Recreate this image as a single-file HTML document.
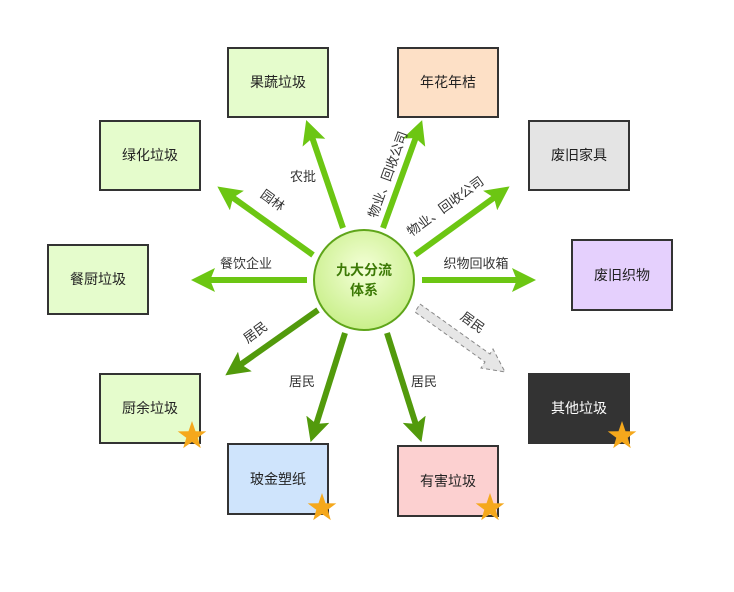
<!DOCTYPE html>
<html><head><meta charset="utf-8"><style>
html,body{margin:0;padding:0;background:#fff;}
svg{display:block;font-family:"Liberation Sans","Noto Sans CJK SC",sans-serif;}
</style></head><body>
<svg width="734" height="592" viewBox="0 0 734 592" xmlns="http://www.w3.org/2000/svg">
<defs>
<marker id="ml" markerWidth="4" markerHeight="4" refX="1" refY="2" orient="auto" markerUnits="strokeWidth"><path d="M0,0 L4,2 L0,4 L0.8,2 z" fill="#6cc613"/></marker>
<marker id="md" markerWidth="4" markerHeight="4" refX="1" refY="2" orient="auto" markerUnits="strokeWidth"><path d="M0,0 L4,2 L0,4 L0.8,2 z" fill="#529a0c"/></marker>
<radialGradient id="cg" cx="50%" cy="40%" r="60%"><stop offset="0" stop-color="#f4ffd8"/><stop offset="1" stop-color="#c9ef8a"/></radialGradient>
</defs>
<g stroke-width="6" fill="none">
<line x1="343" y1="228" x2="312" y2="137" stroke="#6cc613" marker-end="url(#ml)"/>
<line x1="383" y1="228" x2="416" y2="137" stroke="#6cc613" marker-end="url(#ml)"/>
<line x1="313" y1="255" x2="232" y2="197" stroke="#6cc613" marker-end="url(#ml)"/>
<line x1="415" y1="255" x2="495" y2="197" stroke="#6cc613" marker-end="url(#ml)"/>
<line x1="307" y1="280" x2="209" y2="280" stroke="#6cc613" marker-end="url(#ml)"/>
<line x1="422" y1="280" x2="518" y2="280" stroke="#6cc613" marker-end="url(#ml)"/>
<line x1="318" y1="310" x2="240" y2="365" stroke="#529a0c" marker-end="url(#md)"/>
<line x1="345" y1="333" x2="316" y2="425" stroke="#529a0c" marker-end="url(#md)"/>
<line x1="387" y1="333" x2="416" y2="425" stroke="#529a0c" marker-end="url(#md)"/>
</g>
<path d="M420,304 L490,354 L493,349 L505,372 L481,368 L485,362 L415,312 z" fill="#e6e6e6" stroke="#888" stroke-width="1" stroke-dasharray="4,3"/>
<circle cx="364" cy="280" r="50" fill="url(#cg)" stroke="#5fa51a" stroke-width="2"/>
<text x="364" y="275" text-anchor="middle" font-size="14" font-weight="bold" fill="#3d7a06">九大分流</text>
<text x="364" y="295" text-anchor="middle" font-size="14" font-weight="bold" fill="#3d7a06">体系</text>
<g stroke="#333" stroke-width="2">
<rect x="228" y="48" width="100" height="69" fill="#e5fccc"/>
<rect x="398" y="48" width="100" height="69" fill="#fde0c6"/>
<rect x="100" y="121" width="100" height="69" fill="#e5fccc"/>
<rect x="529" y="121" width="100" height="69" fill="#e4e4e4"/>
<rect x="48" y="245" width="100" height="69" fill="#e5fccc"/>
<rect x="572" y="240" width="100" height="70" fill="#e5d0fd"/>
<rect x="100" y="374" width="100" height="69" fill="#e5fccc"/>
<rect x="529" y="374" width="100" height="69" fill="#333"/>
<rect x="228" y="444" width="100" height="70" fill="#cfe4fc"/>
<rect x="398" y="446" width="100" height="70" fill="#fcd0d0"/>
</g>
<g font-size="14" fill="#222" text-anchor="middle">
<text x="278" y="87">果蔬垃圾</text>
<text x="448" y="87">年花年桔</text>
<text x="150" y="160">绿化垃圾</text>
<text x="579" y="160">废旧家具</text>
<text x="98" y="284">餐厨垃圾</text>
<text x="622" y="280">废旧织物</text>
<text x="150" y="413">厨余垃圾</text>
<text x="579" y="413" fill="#fff">其他垃圾</text>
<text x="278" y="484">玻金塑纸</text>
<text x="448" y="486">有害垃圾</text>
</g>
<g font-size="13" fill="#333" text-anchor="middle">
<text x="303" y="181">农批</text>
<text transform="translate(270,204) rotate(36)">园林</text>
<text x="246" y="268">餐饮企业</text>
<text transform="translate(392,176) rotate(-70)">物业、回收公司</text>
<text transform="translate(448,210) rotate(-36)">物业、回收公司</text>
<text x="476" y="268">织物回收箱</text>
<text transform="translate(470,326) rotate(36)">居民</text>
<text transform="translate(258,336) rotate(-36)">居民</text>
<text x="302" y="386">居民</text>
<text x="424" y="386">居民</text>
</g>
<g fill="#f5a81c">
<polygon id="st" points="0,-15 3.5,-4.8 14.3,-4.6 5.7,1.8 8.8,12.1 0,6 -8.8,12.1 -5.7,1.8 -14.3,-4.6 -3.5,-4.8" transform="translate(192,436)"/>
<use href="#st" transform="translate(130,72)"/>
<use href="#st" transform="translate(298,72)"/>
<use href="#st" transform="translate(430,0)"/>
</g>
</svg>
</body></html>
